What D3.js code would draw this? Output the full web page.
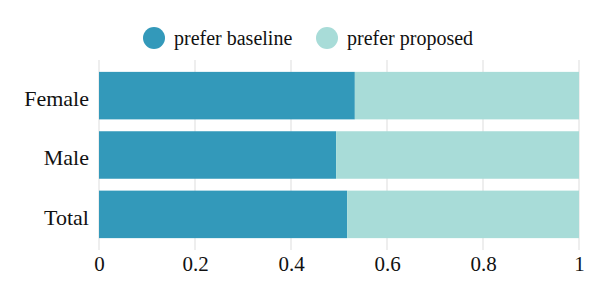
<!DOCTYPE html>
<html>
<head>
<meta charset="utf-8">
<script src="https://cdn.jsdelivr.net/npm/d3@7"></script>
</head>
<body style="margin:0">
<svg id="chart" width="600" height="300" font-family="Liberation Serif"></svg>
<script>
var groups = ["Female", "Male", "Total"];
var preferBaseline = [0.533, 0.494, 0.517];
var preferProposed = [0.467, 0.506, 0.483];
var seriesNames = ["prefer baseline", "prefer proposed"];
var seriesColors = ["#3399ba", "#a8dcd8"];
var xTicks = [0, 0.2, 0.4, 0.6, 0.8, 1];

var svg = d3.select("#chart");

var x = d3.scaleLinear().domain([0, 1]).range([99, 579]);
var y = d3.scaleBand().domain(groups).range([60, 250]).paddingInner(0.2).paddingOuter(0.2);
var color = d3.scaleOrdinal().domain(seriesNames).range(seriesColors);

// grid
svg.append("g").selectAll("line").data(xTicks).enter().append("line")
  .attr("x1", function(d){ return x(d); })
  .attr("x2", function(d){ return x(d); })
  .attr("y1", 60).attr("y2", 250)
  .attr("stroke", "#dddddd").attr("stroke-width", 1);

// stacked bars
var rows = groups.map(function(g, i){
  return { group: g, "prefer baseline": preferBaseline[i], "prefer proposed": preferProposed[i] };
});
var stack = d3.stack().keys(seriesNames)(rows);

svg.append("g").selectAll("g").data(stack).enter().append("g")
  .attr("fill", function(d){ return color(d.key); })
  .selectAll("rect").data(function(d){ return d; }).enter().append("rect")
  .attr("x", function(d){ return x(d[0]); })
  .attr("width", function(d){ return x(d[1]) - x(d[0]); })
  .attr("y", function(d){ return y(d.data.group); })
  .attr("height", y.bandwidth());

// x axis
var xAxis = d3.axisBottom(x).tickValues(xTicks).tickFormat(d3.format("~g")).tickSize(0).tickPadding(0);
var gx = svg.append("g").attr("transform", "translate(0,250)").call(xAxis)
  .attr("font-family", "Liberation Serif").attr("font-size", 21);
gx.select(".domain").remove();
gx.selectAll("text").attr("dy", "0.71em").attr("y", 6).attr("fill", "#111");

// y axis
var yAxis = d3.axisLeft(y).tickSize(0).tickPadding(10);
var gy = svg.append("g").attr("transform", "translate(99,0)").call(yAxis)
  .attr("font-family", "Liberation Serif").attr("font-size", 22);
gy.select(".domain").remove();
gy.selectAll("text").attr("dy", "0.46em").attr("fill", "#111");

// legend
var legendX = [154, 327];
var legend = svg.append("g").selectAll("g").data(seriesNames).enter().append("g")
  .attr("transform", function(d, i){ return "translate(" + legendX[i] + ",38)"; });
legend.append("circle").attr("r", 11).attr("fill", function(d){ return color(d); });
legend.append("text").attr("x", 20).attr("dy", "0.33em")
  .attr("font-family", "Liberation Serif").attr("font-size", 20).attr("fill", "#111")
  .text(function(d){ return d; });
</script>
</body>
</html>
